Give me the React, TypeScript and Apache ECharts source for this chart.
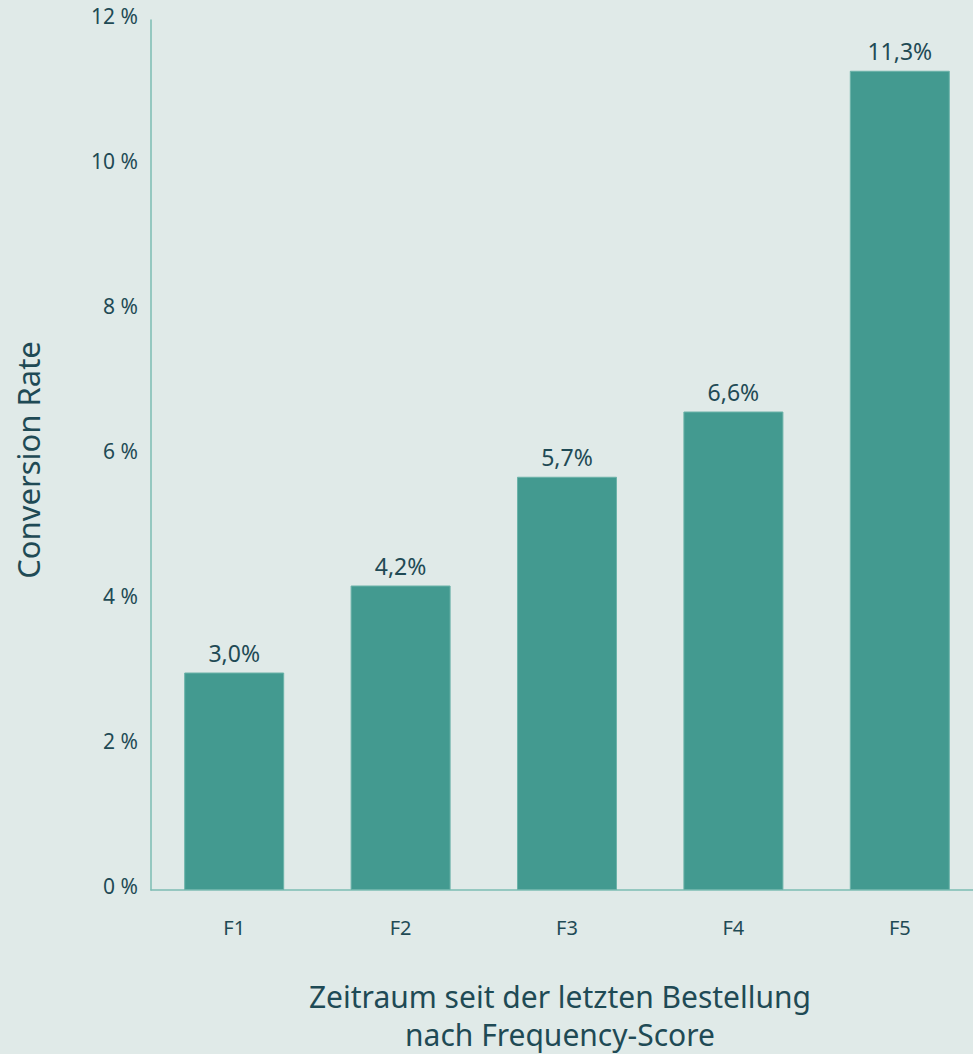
import React, { useEffect, useRef } from "react";
import * as echarts from "echarts";

const categories = ["F1", "F2", "F3", "F4", "F5"];
const values = [3.0, 4.2, 5.7, 6.6, 11.3];
const yTicks = [0, 2, 4, 6, 8, 10, 12];

const FONT = "'Noto Sans', Lato, sans-serif";
const TEXT = "#1f4a55";

export default function App() {
  const ref = useRef<HTMLDivElement>(null);
  useEffect(() => {
    document.body.style.margin = "0";
    const chart = echarts.init(ref.current!, null, { renderer: "svg" });
    chart.setOption({
      animation: false,
      backgroundColor: "#e0eae8",
      grid: {
        left: 151,
        width: 832,
        top: 20,
        bottom: 164,
        containLabel: false,
        outerBoundsMode: "none",
      },
      xAxis: {
        type: "category",
        data: categories,
        axisLine: { show: true, lineStyle: { color: "#7dbcb3", width: 1.5 } },
        axisTick: { show: false },
        axisLabel: { color: TEXT, fontFamily: FONT, fontSize: 20, margin: 27 },
      },
      yAxis: {
        type: "value",
        min: yTicks[0],
        max: yTicks[yTicks.length - 1],
        interval: 2,
        axisLine: { show: true, lineStyle: { color: "#7dbcb3", width: 1.5 } },
        axisTick: { show: false },
        splitLine: { show: false },
        axisLabel: {
          margin: 13,
          verticalAlign: "middle",
          formatter: (v: number) => `{t|${v} %}`,
          rich: {
            t: {
              color: TEXT,
              fontFamily: FONT,
              fontSize: 21,
              padding: [0, 0, 9, 0],
            },
          },
        },
      },
      graphic: [
        {
          type: "text",
          x: 28,
          y: 460,
          rotation: Math.PI / 2,
          style: {
            text: "Conversion Rate",
            fill: TEXT,
            font: `31px ${FONT}`,
            align: "center",
            verticalAlign: "middle",
          },
        },
        {
          type: "text",
          x: 560,
          y: 1015,
          style: {
            text: "Zeitraum seit der letzten Bestellung\nnach Frequency-Score",
            fill: TEXT,
            font: `30px ${FONT}`,
            align: "center",
            verticalAlign: "middle",
            lineHeight: 38,
          },
        },
      ],
      series: [
        {
          type: "bar",
          data: values,
          barWidth: 100,
          itemStyle: { color: "#439a90", borderColor: "#6cb3a9", borderWidth: 1 },
          label: {
            show: true,
            position: "top",
            distance: 8,
            color: TEXT,
            fontFamily: FONT,
            fontSize: 23,
            formatter: (p: any) => `${p.value.toFixed(1).replace(".", ",")}%`,
          },
        },
      ],
    });
    return () => chart.dispose();
  }, []);
  return <div ref={ref} style={{ width: 973, height: 1054 }} />;
}
